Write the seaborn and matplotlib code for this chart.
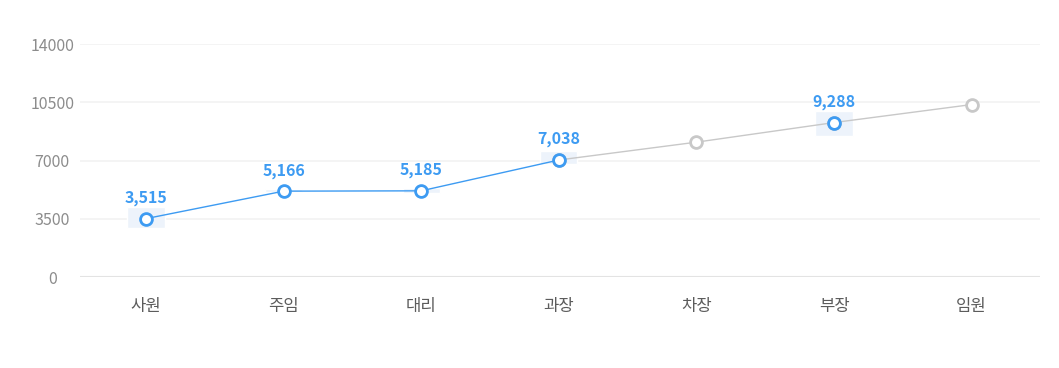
import numpy as np
import pandas as pd
import matplotlib
matplotlib.use('Agg')
import matplotlib.pyplot as plt
import seaborn as sns

# data
categories = ['사원', '주임', '대리', '과장', '차장', '부장', '임원']
actual_cats = ['사원', '주임', '대리', '과장']
actual_vals = [3515, 5166, 5185, 7038]
trend_cats = ['과장', '차장', '부장', '임원']
trend_vals = [7038, 8110, 9288, 10370]
band_cats = ['사원', '주임', '대리', '과장', '부장']
band_low = [2940, 5110, 5050, 6790, 8470]
band_high = [4210, 5320, 5350, 7570, 9970]
label_cats = ['사원', '주임', '대리', '과장', '부장']
label_vals = [3515, 5166, 5185, 7038, 9288]
yticks = [0, 3500, 7000, 10500, 14000]

sns.set_theme(style='white')
plt.rcParams['font.family'] = ['Noto Sans CJK KR', 'DejaVu Sans']

BLUE = '#3d9bf2'
GRAY = '#c8c8c8'

pos = {c: i for i, c in enumerate(categories)}
actual = pd.DataFrame({'x': [pos[c] for c in actual_cats], 'y': actual_vals})
trend = pd.DataFrame({'x': [pos[c] for c in trend_cats], 'y': trend_vals})

fig = plt.figure(figsize=(10.59, 3.68), dpi=100)
ax = fig.add_axes([0.0755, 0.247, 0.907, 0.633])

# light highlight bands behind points
bx = [pos[c] for c in band_cats]
ax.bar(bx, np.array(band_high) - np.array(band_low), bottom=band_low,
       width=0.27, color='#edf3fb', zorder=1)

for y in yticks[1:]:
    ax.axhline(y, color='#f2f2f2', lw=1.2, zorder=0)
ax.axhline(0, color='#e3e3e3', lw=1.5, zorder=0)

sns.lineplot(data=trend, x='x', y='y', ax=ax, color=GRAY, lw=1, marker='o',
             markersize=8.5, markerfacecolor='white', markeredgecolor=GRAY,
             markeredgewidth=2, zorder=3, clip_on=False)
sns.lineplot(data=actual, x='x', y='y', ax=ax, color=BLUE, lw=1, marker='o',
             markersize=8.5, markerfacecolor='white', markeredgecolor=BLUE,
             markeredgewidth=2, zorder=4, clip_on=False)
# 부장 point is highlighted blue
ax.plot([pos['부장']], [9288], 'o', ms=8.5, mfc='white', mec=BLUE, mew=2, zorder=5)

for c, v in zip(label_cats, label_vals):
    ax.annotate(f'{v:,}', (pos[c], v), xytext=(0, 9), textcoords='offset points',
                ha='center', va='bottom', color=BLUE, fontsize=11.5,
                fontweight='bold', zorder=6)

ax.set_xlim(-0.48, 6.5)
ax.set_ylim(0, 14000)
ax.set_xticks(range(len(categories)))
ax.set_xticklabels(categories)
ax.set_yticks(yticks)
ax.set_yticklabels([str(t) for t in yticks], ha='center')
ax.tick_params(axis='x', length=0, pad=15, labelsize=12, labelcolor='#5c5c5c')
ax.tick_params(axis='y', length=0, pad=20, labelsize=11.5, labelcolor='#8c8c8c')
ax.set_xlabel('')
ax.set_ylabel('')
for s in ax.spines.values():
    s.set_visible(False)

fig.savefig('out.png', dpi=100, facecolor='white')
